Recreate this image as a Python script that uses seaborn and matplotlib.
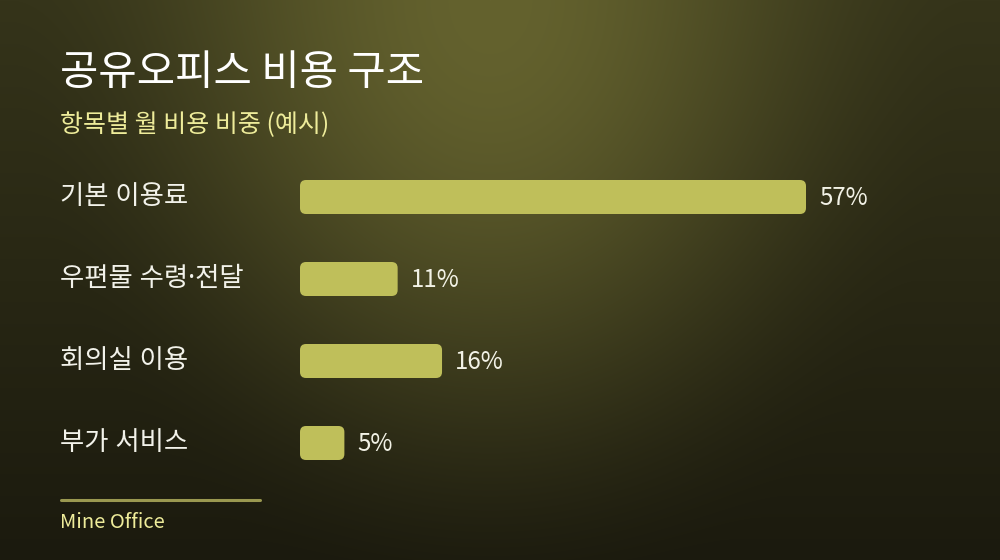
import numpy as np
import pandas as pd
import matplotlib
matplotlib.use("Agg")
import matplotlib.pyplot as plt
from matplotlib.colors import to_rgb
from matplotlib.patches import FancyBboxPatch
import matplotlib.transforms as mtransforms
import seaborn as sns

# ── Data ──────────────────────────────────────────────────────────────────────
categories = ["기본 이용료", "우편물 수령·전달", "회의실 이용", "부가 서비스"]
shares = [57, 11, 16, 5]

TITLE = "공유오피스 비용 구조"
SUBTITLE = "항목별 월 비용 비중 (예시)"
SOURCE = "Mine Office"

BAR_COLOR = "#bfbf5a"
W, H = 1000, 560

sns.set_theme(style="white")
plt.rcParams["font.family"] = ["Noto Sans CJK KR", "DejaVu Sans"]

fig = plt.figure(figsize=(W / 100, H / 100), dpi=100)

# ── Background: dark vertical base + olive glow from the top ─────────────────
bg = fig.add_axes([0, 0, 1, 1])
yy, xx = np.mgrid[0:H, 0:W].astype(float)
top, bottom, peak = (np.array(to_rgb(c)) for c in ("#35341a", "#1b1a0e", "#64622e"))
t = (yy / H)[..., None]
base = top * (1 - t) + bottom * t
r = np.clip(np.sqrt(((xx - 490) / 480) ** 2 + (yy / 630) ** 2), 0, 1)
glow = (1 - r * r * (3 - 2 * r))[..., None]
img = base + glow * (peak - base)
bg.imshow(img, extent=[0, W, H, 0], aspect="auto")
bg.set_axis_off()

# ── Bar axes: pixel x 300..1000, y 156..484 ───────────────────────────────────
px_per_pct = 506 / 57
ax = fig.add_axes([300 / W, 1 - 484 / H, 700 / W, 328 / H])
ax.patch.set_alpha(0)
df = pd.DataFrame({"item": categories, "share": shares})
sns.barplot(data=df, y="item", x="share", orient="h", color=BAR_COLOR,
            width=34 / 82, saturation=1, ax=ax)
ax.set_xlim(0, 700 / px_per_pct)
ax.set_ylim(len(categories) - 0.5, -0.5)
ax.set_axis_off()

# swap rectangles for rounded ones
radius_px = 6
aspect = (1 / 82) / (1 / px_per_pct)
for bar in list(ax.patches):
    x0, y0 = bar.get_x(), bar.get_y()
    w, h = bar.get_width(), bar.get_height()
    bar.set_visible(False)
    ax.add_patch(FancyBboxPatch(
        (x0, y0), w, h,
        boxstyle=f"round,pad=0,rounding_size={radius_px / px_per_pct}",
        mutation_aspect=aspect, facecolor=BAR_COLOR, edgecolor="none"))

# value labels
for i, v in enumerate(shares):
    ax.text(v + 13 / px_per_pct, i + 0.01, f"{v}%", va="center", ha="left",
            color="#f2f2e6", fontsize=17.3)

# category labels on the left, aligned with bar rows
# (Noto Sans first so the middle dot stays narrow; Hangul falls back to CJK)
lab_tf = mtransforms.blended_transform_factory(fig.transFigure, ax.transData)
for i, c in enumerate(categories):
    ax.text(60 / W, i + 0.0, c, transform=lab_tf, va="center", ha="left",
            color="#f2f2ea", fontsize=19,
            family=["Noto Sans", "Noto Sans CJK KR"])

# ── Titles and footer ─────────────────────────────────────────────────────────
fig.text(60 / W, 1 - 73 / H, TITLE, color="white", fontsize=30,
         fontweight="medium", va="center", ha="left")
fig.text(60 / W, 1 - 125 / H, SUBTITLE, color="#eeec9a", fontsize=18,
         va="center", ha="left")
fig.add_artist(plt.Line2D([61 / W, 260 / W], [1 - 500 / H, 1 - 500 / H],
                          color="#9a9850", linewidth=2.2,
                          transform=fig.transFigure))
fig.text(60 / W, 1 - 523 / H, SOURCE, color="#eeec9a", fontsize=14.5,
         va="center", ha="left")

fig.savefig("out.png", dpi=100)
